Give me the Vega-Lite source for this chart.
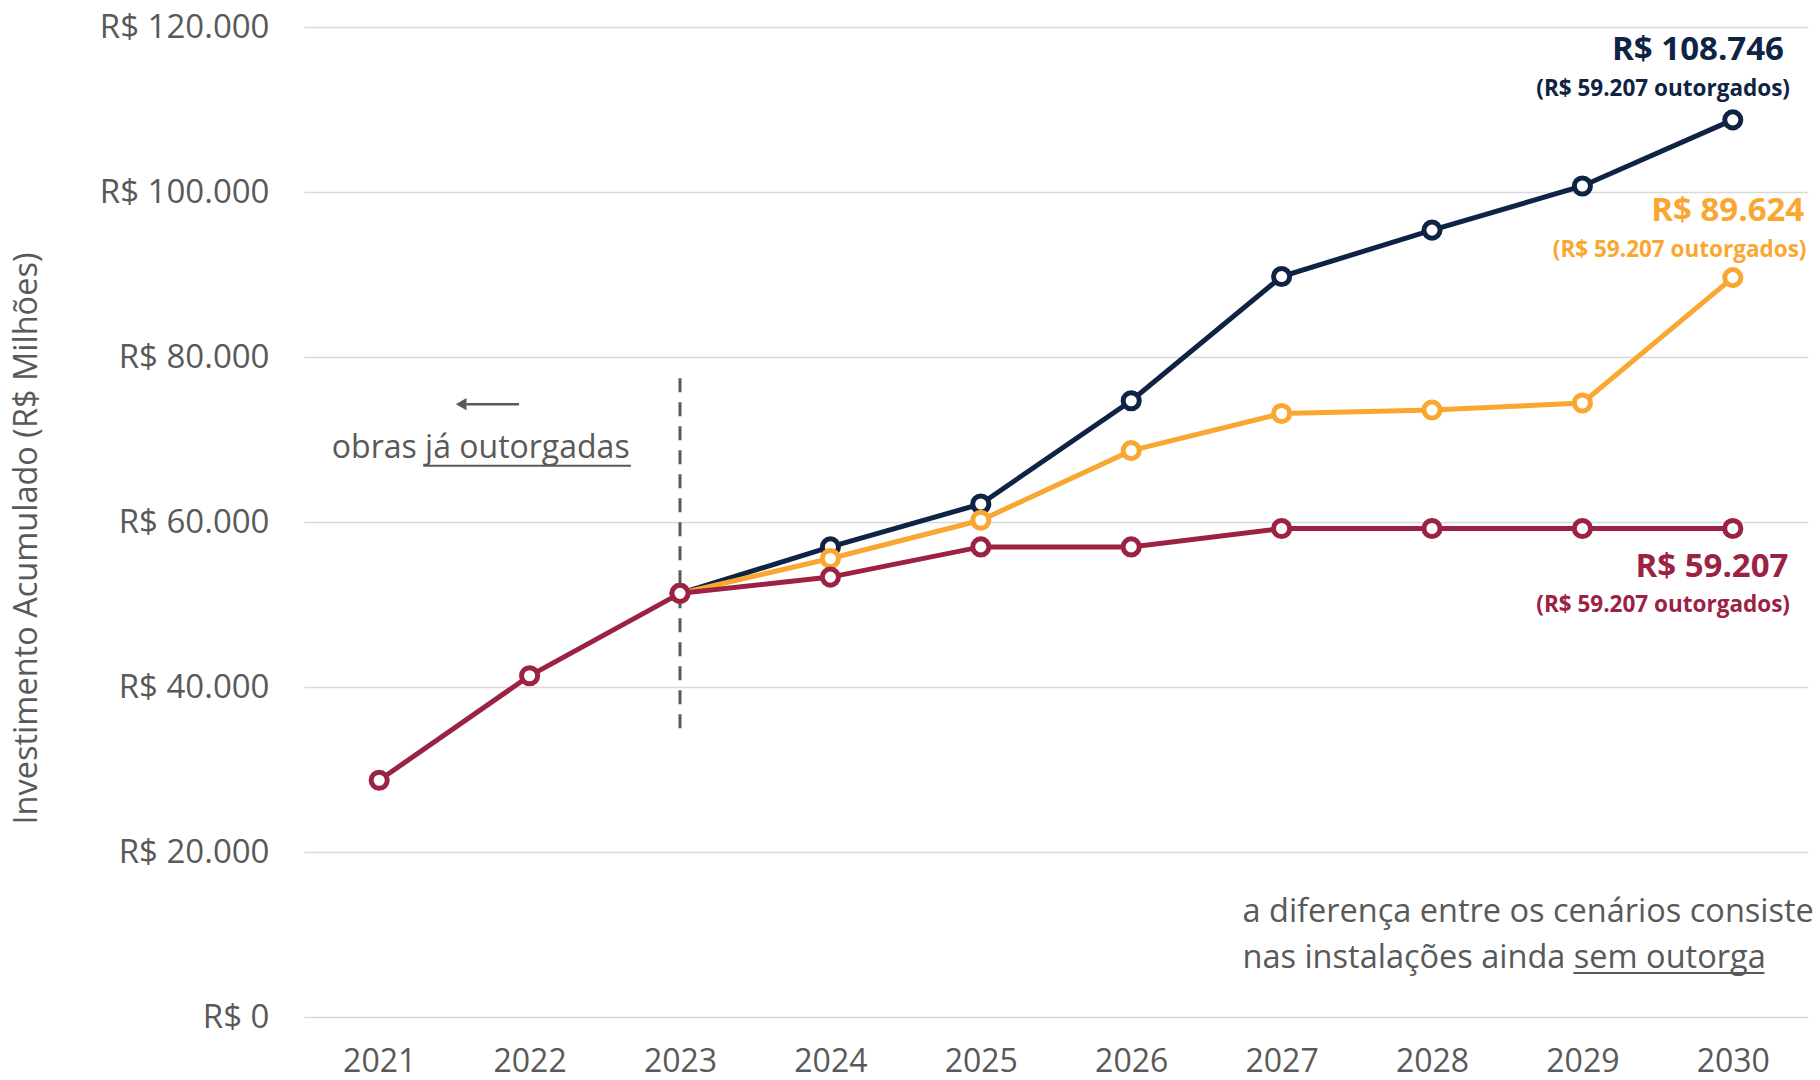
{
  "$schema": "https://vega.github.io/schema/vega-lite/v6.json",
  "autosize": {"type": "none"},
  "width": 1504,
  "height": 990,
  "padding": {"left": 304, "top": 27, "right": 12, "bottom": 63},
  "background": "white",
  "config": {
    "view": {"stroke": null},
    "font": "Open Sans",
    "axis": {"labelFont": "Open Sans", "titleFont": "Open Sans"}
  },
  "datasets": {
    "series": [
      {"ano": 2023, "cenario": "alto", "valor": 51350},
      {"ano": 2024, "cenario": "alto", "valor": 56980},
      {"ano": 2025, "cenario": "alto", "valor": 62180},
      {"ano": 2026, "cenario": "alto", "valor": 74700},
      {"ano": 2027, "cenario": "alto", "valor": 89750},
      {"ano": 2028, "cenario": "alto", "valor": 95380},
      {"ano": 2029, "cenario": "alto", "valor": 100730},
      {"ano": 2030, "cenario": "alto", "valor": 108746},
      {"ano": 2023, "cenario": "medio", "valor": 51350},
      {"ano": 2024, "cenario": "medio", "valor": 55570},
      {"ano": 2025, "cenario": "medio", "valor": 60210},
      {"ano": 2026, "cenario": "medio", "valor": 68650},
      {"ano": 2027, "cenario": "medio", "valor": 73150},
      {"ano": 2028, "cenario": "medio", "valor": 73580},
      {"ano": 2029, "cenario": "medio", "valor": 74420},
      {"ano": 2030, "cenario": "medio", "valor": 89624},
      {"ano": 2021, "cenario": "outorgado", "valor": 28700},
      {"ano": 2022, "cenario": "outorgado", "valor": 41360},
      {"ano": 2023, "cenario": "outorgado", "valor": 51350},
      {"ano": 2024, "cenario": "outorgado", "valor": 53320},
      {"ano": 2025, "cenario": "outorgado", "valor": 56980},
      {"ano": 2026, "cenario": "outorgado", "valor": 56980},
      {"ano": 2027, "cenario": "outorgado", "valor": 59207},
      {"ano": 2028, "cenario": "outorgado", "valor": 59207},
      {"ano": 2029, "cenario": "outorgado", "valor": 59207},
      {"ano": 2030, "cenario": "outorgado", "valor": 59207}
    ],
    "bigLabels": [
      {"x": 2030.34, "y": 117200, "texto": "R$ 108.746", "cenario": "alto"},
      {"x": 2030.475, "y": 97750, "texto": "R$ 89.624", "cenario": "medio"},
      {"x": 2030.37, "y": 54550, "texto": "R$ 59.207", "cenario": "outorgado"}
    ],
    "smallLabels": [
      {"x": 2030.38, "y": 112500, "texto": "(R$ 59.207 outorgados)", "cenario": "alto"},
      {"x": 2030.49, "y": 93000, "texto": "(R$ 59.207 outorgados)", "cenario": "medio"},
      {"x": 2030.38, "y": 49950, "texto": "(R$ 59.207 outorgados)", "cenario": "outorgado"}
    ],
    "notes": [
      {"x": 2026.74, "y": 12700, "texto": "a diferença entre os cenários consiste"},
      {"x": 2026.74, "y": 7100, "texto": "nas instalações ainda sem outorga"}
    ],
    "centerNotes": [
      {"x": 2021.675, "y": 68930, "texto": "obras já outorgadas"}
    ],
    "underlines": [
      {"x": 2021.293, "x2": 2022.674, "y": 66820},
      {"x": 2028.94, "x2": 2030.21, "y": 5346}
    ]
  },
  "encoding": {
    "x": {"type": "quantitative", "scale": {"domain": [2020.5, 2030.5], "nice": false, "zero": false}},
    "y": {"type": "quantitative", "scale": {"domain": [0, 120000], "nice": false}}
  },
  "layer": [
    {
      "data": {"name": "series"},
      "mark": {"type": "line", "strokeWidth": 0},
      "encoding": {
        "x": {"field": "ano", "type": "quantitative",
          "axis": {"values": [2021, 2022, 2023, 2024, 2025, 2026, 2027, 2028, 2029, 2030], "format": "d", "grid": false, "domain": false, "ticks": false, "labelFontSize": 32, "labelColor": "#595959", "labelPadding": 29, "title": null}},
        "y": {"field": "valor", "type": "quantitative",
          "axis": {"values": [0, 20000, 40000, 60000, 80000, 100000, 120000], "labelExpr": "'R$ ' + replace(format(datum.value, ',.0f'), ',', '.')", "grid": true, "gridColor": "#d9d9d9", "gridWidth": 1.5, "domain": false, "ticks": false, "labelFontSize": 33, "labelColor": "#595959", "labelPadding": 35, "title": "Investimento Acumulado (R$ Milhões)", "titleFontSize": 32.5, "titleFontWeight": "normal", "titleColor": "#595959", "titleX": -278, "titleY": 511, "titleAngle": -90, "titleBaseline": "middle", "titleAlign": "center"}}
      }
    },
    {
      "data": {"values": [{"x": 2023, "y": 35000, "y2": 78000}]},
      "mark": {"type": "rule", "color": "#595959", "strokeWidth": 3, "strokeDash": [14, 10]},
      "encoding": {
        "x": {"field": "x", "type": "quantitative"},
        "y": {"field": "y", "type": "quantitative"},
        "y2": {"field": "y2"}
      }
    },
    {
      "data": {"values": [{"x": 2021.93, "x2": 2021.58, "y": 74280}]},
      "mark": {"type": "rule", "color": "#595959", "strokeWidth": 2.5},
      "encoding": {
        "x": {"field": "x", "type": "quantitative"},
        "x2": {"field": "x2"},
        "y": {"field": "y", "type": "quantitative"}
      }
    },
    {
      "data": {"values": [{"x": 2021.545, "y": 74280}]},
      "mark": {"type": "point", "shape": "triangle-left", "filled": true, "color": "#595959", "size": 150, "opacity": 1},
      "encoding": {
        "x": {"field": "x", "type": "quantitative"},
        "y": {"field": "y", "type": "quantitative"}
      }
    },
    {
      "data": {"name": "series"},
      "transform": [{"filter": "datum.cenario == 'alto'"}],
      "mark": {"type": "line", "strokeWidth": 5, "color": "#0f2344"},
      "encoding": {
        "x": {"field": "ano", "type": "quantitative"},
        "y": {"field": "valor", "type": "quantitative"}
      }
    },
    {
      "data": {"name": "series"},
      "transform": [{"filter": "datum.cenario == 'alto'"}],
      "mark": {"type": "point", "filled": true, "fill": "white", "stroke": "#0f2344", "strokeWidth": 5, "size": 260, "opacity": 1},
      "encoding": {
        "x": {"field": "ano", "type": "quantitative"},
        "y": {"field": "valor", "type": "quantitative"}
      }
    },
    {
      "data": {"name": "series"},
      "transform": [{"filter": "datum.cenario == 'medio'"}],
      "mark": {"type": "line", "strokeWidth": 5, "color": "#f9a731"},
      "encoding": {
        "x": {"field": "ano", "type": "quantitative"},
        "y": {"field": "valor", "type": "quantitative"}
      }
    },
    {
      "data": {"name": "series"},
      "transform": [{"filter": "datum.cenario == 'medio'"}],
      "mark": {"type": "point", "filled": true, "fill": "white", "stroke": "#f9a731", "strokeWidth": 5, "size": 260, "opacity": 1},
      "encoding": {
        "x": {"field": "ano", "type": "quantitative"},
        "y": {"field": "valor", "type": "quantitative"}
      }
    },
    {
      "data": {"name": "series"},
      "transform": [{"filter": "datum.cenario == 'outorgado'"}],
      "mark": {"type": "line", "strokeWidth": 5, "color": "#9b2242"},
      "encoding": {
        "x": {"field": "ano", "type": "quantitative"},
        "y": {"field": "valor", "type": "quantitative"}
      }
    },
    {
      "data": {"name": "series"},
      "transform": [{"filter": "datum.cenario == 'outorgado'"}],
      "mark": {"type": "point", "filled": true, "fill": "white", "stroke": "#9b2242", "strokeWidth": 5, "size": 260, "opacity": 1},
      "encoding": {
        "x": {"field": "ano", "type": "quantitative"},
        "y": {"field": "valor", "type": "quantitative"}
      }
    },
    {
      "data": {"name": "bigLabels"},
      "mark": {"type": "text", "align": "right", "baseline": "middle", "fontSize": 33, "fontWeight": "bold"},
      "encoding": {
        "x": {"field": "x", "type": "quantitative"},
        "y": {"field": "y", "type": "quantitative"},
        "text": {"field": "texto"},
        "color": {"field": "cenario", "type": "nominal", "scale": {"domain": ["alto", "medio", "outorgado"], "range": ["#0f2344", "#f9a731", "#9b2242"]}, "legend": null}
      }
    },
    {
      "data": {"name": "smallLabels"},
      "mark": {"type": "text", "align": "right", "baseline": "middle", "fontSize": 22.5, "fontWeight": "bold"},
      "encoding": {
        "x": {"field": "x", "type": "quantitative"},
        "y": {"field": "y", "type": "quantitative"},
        "text": {"field": "texto"},
        "color": {"field": "cenario", "type": "nominal", "legend": null}
      }
    },
    {
      "data": {"name": "notes"},
      "mark": {"type": "text", "align": "left", "baseline": "middle", "fontSize": 32.5, "color": "#595959"},
      "encoding": {
        "x": {"field": "x", "type": "quantitative"},
        "y": {"field": "y", "type": "quantitative"},
        "text": {"field": "texto"}
      }
    },
    {
      "data": {"name": "centerNotes"},
      "mark": {"type": "text", "align": "center", "baseline": "middle", "fontSize": 32, "color": "#595959"},
      "encoding": {
        "x": {"field": "x", "type": "quantitative"},
        "y": {"field": "y", "type": "quantitative"},
        "text": {"field": "texto"}
      }
    },
    {
      "data": {"name": "underlines"},
      "mark": {"type": "rule", "color": "#595959", "strokeWidth": 2},
      "encoding": {
        "x": {"field": "x", "type": "quantitative"},
        "x2": {"field": "x2"},
        "y": {"field": "y", "type": "quantitative"}
      }
    }
  ]
}
